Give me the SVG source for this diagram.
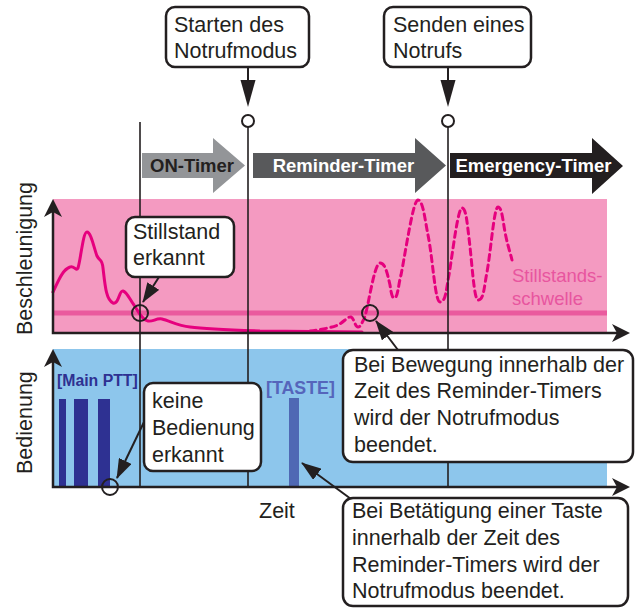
<svg xmlns="http://www.w3.org/2000/svg" width="637" height="608" viewBox="0 0 637 608">
  <style>
    .txt { font-family: "Liberation Sans", Arial, sans-serif; font-size: 21.5px; fill: #231f20; }
    .bold { font-family: "Liberation Sans", Arial, sans-serif; font-weight: bold; }
    .box { fill: #ffffff; stroke: #231f20; stroke-width: 2.5; }
    .vline { stroke: #231f20; stroke-width: 1.6; fill: none; }
    .axis { stroke: #231f20; stroke-width: 2.5; fill: none; }
    .mark { fill: none; stroke: #231f20; stroke-width: 2; }
    .lead { stroke: #231f20; stroke-width: 2; fill: none; marker-end: url(#head); }
    .curve { fill: none; stroke: #e6007e; stroke-width: 3; stroke-linecap: round; stroke-linejoin: round; }
  </style>
  <defs>
    <marker id="head" markerUnits="userSpaceOnUse" markerWidth="20" markerHeight="14" refX="19" refY="7" orient="auto">
      <path d="M0,0 L20,7 L0,14 Z" fill="#231f20"/>
    </marker>
  </defs>

  <rect width="637" height="608" fill="#ffffff"/>

  <!-- acceleration panel -->
  <g id="panel-acceleration">
    <rect x="53" y="199" width="554" height="134" fill="#f49ac1"/>
    <rect x="53" y="310.5" width="554" height="5" fill="#ea5a9e"/>
    <path class="curve" d="M53,292 C58,282 62,270 70,267 C74,265 76,272 78,268 C81,258 83,232 87,232 C91,232 94,248 97,256 C100,262 102,258 103,268 C105,285 106,300 113,303 C119,305 119,290 123,291 C127,292 130,300 134,305 C138,311 142,320 148,321 C153,322 156,318 162,319 C170,321 178,326 190,327 C205,329 230,330 260,331 L362,332"/>
    <path class="curve" stroke-dasharray="6 4.5" stroke-linecap="butt" d="M310,331 C320,330 330,328 338,325 C344,322 348,316 351,317 C354,318 355,327 358,327 C361,327 362,322 364,319 C368,310 374,263 380,263 C385,263 387,272 390,285 C391,292 392,298 394,298 C398,298 398,286 401,275 C406,250 413,200 418,200 C423,200 425,220 428,235 C433,260 435,302 440,302 C446,302 446,290 449,275 C453,250 458,208 462,208 C466,208 467,222 469,238 C472,262 474,300 478,300 C484,300 484,287 487,272 C491,250 494,207 498,207 C502,207 503,222 505,232 C507,243 510,252 512,260"/>
    <text class="txt" x="512" y="282" style="font-size:18.5px;fill:#e8559f">Stillstands-</text>
    <text class="txt" x="512" y="305" style="font-size:18.5px;fill:#e8559f">schwelle</text>
  </g>

  <!-- operation panel -->
  <g id="panel-operation">
    <rect x="53" y="349" width="554" height="138" fill="#8dc6ec"/>
    <rect x="59" y="399" width="7" height="88" fill="#2e3192"/>
    <rect x="74" y="399" width="14" height="88" fill="#2e3192"/>
    <rect x="98" y="399" width="12" height="88" fill="#2e3192"/>
    <rect x="289" y="398" width="10" height="89" fill="#4f68b4"/>
    <text class="bold" x="57" y="386" style="font-size:15.8px;fill:#2e3192">[Main PTT]</text>
    <text class="bold" x="266" y="394" style="font-size:17.8px;fill:#5565bb">[TASTE]</text>
  </g>

  <!-- timer phases -->
  <g id="timer-on">
    <path d="M142,153 H213 V138 L245,165.5 L213,193 V178 H142 Z" fill="#939598"/>
    <text class="bold" x="192" y="172" text-anchor="middle" style="font-size:18.5px;fill:#231f20">ON-Timer</text>
  </g>
  <g id="timer-reminder">
    <path d="M253,153 H415 V138 L446,165.5 L415,193 V178 H253 Z" fill="#58595b"/>
    <text class="bold" x="343.5" y="172" text-anchor="middle" style="font-size:18.5px;fill:#ffffff">Reminder-Timer</text>
  </g>
  <g id="timer-emergency">
    <path d="M450,153 H592 V138 L623,166 L592,194 V178 H450 Z" fill="#231f20"/>
    <text class="bold" x="533.5" y="172" text-anchor="middle" style="font-size:18.5px;fill:#ffffff">Emergency-Timer</text>
  </g>

  <!-- time markers and axes -->
  <g id="connectors">
    <line class="vline" x1="140" y1="122" x2="140" y2="487"/>
    <line class="vline" x1="248" y1="127" x2="248" y2="487"/>
    <line class="vline" x1="448" y1="127" x2="448" y2="487"/>
    <circle class="mark" cx="248" cy="121" r="6"/>
    <circle class="mark" cx="448" cy="121" r="6"/>

    <path class="axis" d="M53,206 V333 H618"/>
    <path d="M53,199 L44,217 L53,212 L62,217 Z" fill="#231f20"/>
    <path d="M630,333 L612,324 L617,333 L612,342 Z" fill="#231f20"/>
    <path class="axis" d="M53,356 V487 H618"/>
    <path d="M53,349 L44,367 L53,362 L62,367 Z" fill="#231f20"/>
    <path d="M630,487 L612,478 L617,487 L612,496 Z" fill="#231f20"/>

    <circle class="mark" cx="140" cy="313" r="8"/>
    <circle class="mark" cx="370" cy="313" r="8"/>
    <circle class="mark" cx="110" cy="487" r="8"/>

    <line class="vline" x1="248" y1="67" x2="248" y2="81" style="stroke-width:2"/>
    <path d="M240.5,80 L255.5,80 L248,107 Z" fill="#231f20"/>
    <line class="vline" x1="448" y1="67" x2="448" y2="81" style="stroke-width:2"/>
    <path d="M440.5,80 L455.5,80 L448,107 Z" fill="#231f20"/>

    <line class="lead" x1="159" y1="277" x2="143" y2="302"/>
    <line class="lead" x1="144" y1="422" x2="117" y2="478"/>
    <line class="lead" x1="398" y1="350" x2="376" y2="321"/>
    <line class="lead" x1="351" y1="499" x2="302" y2="463"/>
  </g>

  <!-- axis labels -->
  <g id="labels">
    <text class="txt" transform="translate(32,335) rotate(-90)">Beschleunigung</text>
    <text class="txt" transform="translate(32,474) rotate(-90)">Bedienung</text>
    <text class="txt" x="259" y="518">Zeit</text>
  </g>

  <!-- callouts -->
  <g id="callout-start">
    <rect class="box" x="166" y="7" width="143" height="60" rx="9"/>
    <text class="txt" x="174" y="32">Starten des</text>
    <text class="txt" x="174" y="58">Notrufmodus</text>
  </g>
  <g id="callout-send">
    <rect class="box" x="384" y="7" width="147" height="60" rx="9"/>
    <text class="txt" x="393" y="32">Senden eines</text>
    <text class="txt" x="393" y="58">Notrufs</text>
  </g>
  <g id="callout-still">
    <rect class="box" x="126" y="217" width="108" height="60" rx="9"/>
    <text class="txt" x="133" y="239">Stillstand</text>
    <text class="txt" x="133" y="265">erkannt</text>
  </g>
  <g id="callout-nooperation">
    <rect class="box" x="144" y="383" width="117" height="88" rx="9"/>
    <text class="txt" x="152" y="408">keine</text>
    <text class="txt" x="152" y="435">Bedienung</text>
    <text class="txt" x="152" y="462">erkannt</text>
  </g>
  <g id="callout-movement">
    <rect class="box" x="343" y="350" width="290" height="112" rx="10"/>
    <text class="txt" x="354" y="372">Bei Bewegung innerhalb der</text>
    <text class="txt" x="354" y="398">Zeit des Reminder-Timers</text>
    <text class="txt" x="354" y="425">wird der Notrufmodus</text>
    <text class="txt" x="354" y="452">beendet.</text>
  </g>
  <g id="callout-key">
    <rect class="box" x="343" y="498" width="285" height="108" rx="10"/>
    <text class="txt" x="352" y="518">Bei Betätigung einer Taste</text>
    <text class="txt" x="352" y="545">innerhalb der Zeit des</text>
    <text class="txt" x="352" y="572">Reminder-Timers wird der</text>
    <text class="txt" x="352" y="598">Notrufmodus beendet.</text>
  </g>
</svg>
